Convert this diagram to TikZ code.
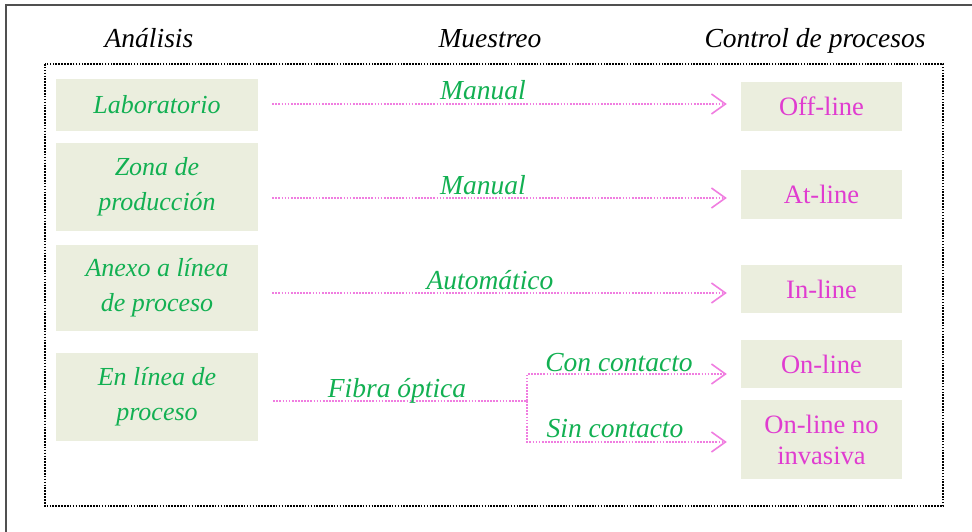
\documentclass[tikz,border=0pt]{standalone}
\usepackage{fontspec}
\setmainfont{Liberation Serif}
\usetikzlibrary{arrows.meta}
\definecolor{boxfill}{RGB}{235,238,222}
\definecolor{txtgreen}{RGB}{18,176,82}
\definecolor{txtmag}{RGB}{224,60,208}
\definecolor{linepink}{RGB}{240,125,224}
\definecolor{framegray}{RGB}{80,80,80}
\tikzset{
  leftbox/.style={fill=boxfill, minimum width=202pt, align=center, inner sep=0pt,
    text=txtgreen, font=\fontsize{26}{35}\selectfont\itshape},
  rightbox/.style={fill=boxfill, minimum width=161pt, align=center, inner sep=0pt,
    text=txtmag, font=\fontsize{26.5}{31}\selectfont},
  header/.style={anchor=base, inner sep=0pt, font=\fontsize{27.5}{30}\selectfont\itshape},
  lbl/.style={anchor=base, inner sep=0pt, text=txtgreen, font=\fontsize{27.5}{30}\selectfont\itshape},
  flow/.style={linepink, line width=1.7pt, dash pattern=on 1.7pt off 1.4pt,
    -{Straight Barb[length=14pt,width=20pt,line width=1.6pt]}},
  flowplain/.style={linepink, line width=1.7pt, dash pattern=on 1.7pt off 1.4pt},
}
\begin{document}
\begin{tikzpicture}[x=1pt,y=-1pt]
\useasboundingbox (0,0) rectangle (972,532);
% outer frame (partial)
\draw[framegray, line width=2pt] (6,533) -- (6,5) -- (973,5);
% dotted box
\draw[black, line width=1.6pt, dash pattern=on 1.6pt off 1.3pt] (45,64) rectangle (943,506);
% headers
\node[header] (h1) at (149,48) {Análisis};
\node[header] (h2) at (490,48) {Muestreo};
\node[header] (h3) at (815,48) {Control de procesos};
% left boxes
\node[leftbox, minimum height=52pt] (lab) at (157,105) {Laboratorio};
\node[leftbox, minimum height=88pt] (zona) at (157,187) {Zona de\\producción};
\node[leftbox, minimum height=86pt] (anexo) at (157,288) {Anexo a línea\\de proceso};
\node[leftbox, minimum height=88pt] (enl) at (157,397) {En línea de\\proceso};
% right boxes
\node[rightbox, minimum height=49pt] (off) at (821.5,106.5) {Off-line};
\node[rightbox, minimum height=49pt] (at) at (821.5,194.5) {At-line};
\node[rightbox, minimum height=48pt] (in) at (821.5,289) {In-line};
\node[rightbox, minimum height=48pt] (on) at (821.5,364) {On-line};
\node[rightbox, minimum height=79pt] (onno) at (821.5,439.5) {On-line no\\invasiva};
% connectors
\draw[flow, shorten <=14pt, shorten >=14pt] (lab.east |- 0,104) -- (off.west |- 0,104);
\draw[flow, shorten <=14pt, shorten >=14pt] (zona.east |- 0,198) -- (at.west |- 0,198);
\draw[flow, shorten <=14pt, shorten >=14pt] (anexo.east |- 0,293) -- (in.west |- 0,293);
\coordinate (split) at (527,401);
\draw[flowplain, shorten <=15pt] (enl.east |- split) -- (split);
\draw[flow, shorten >=14pt] (split) -- (split |- 0,374) -- (on.west |- 0,374);
\draw[flow, shorten >=14pt] (split) -- (split |- 0,442) -- (onno.west |- 0,442);
% labels
\node[lbl] (m1) at (483,100) {Manual};
\node[lbl] (m2) at (483,194) {Manual};
\node[lbl] (m3) at (490,289) {Automático};
\node[lbl] (m4) at (397,397) {Fibra óptica};
\node[lbl] (m5) at (619,371) {Con contacto};
\node[lbl] (m6) at (615,437) {Sin contacto};
\end{tikzpicture}
\end{document}
